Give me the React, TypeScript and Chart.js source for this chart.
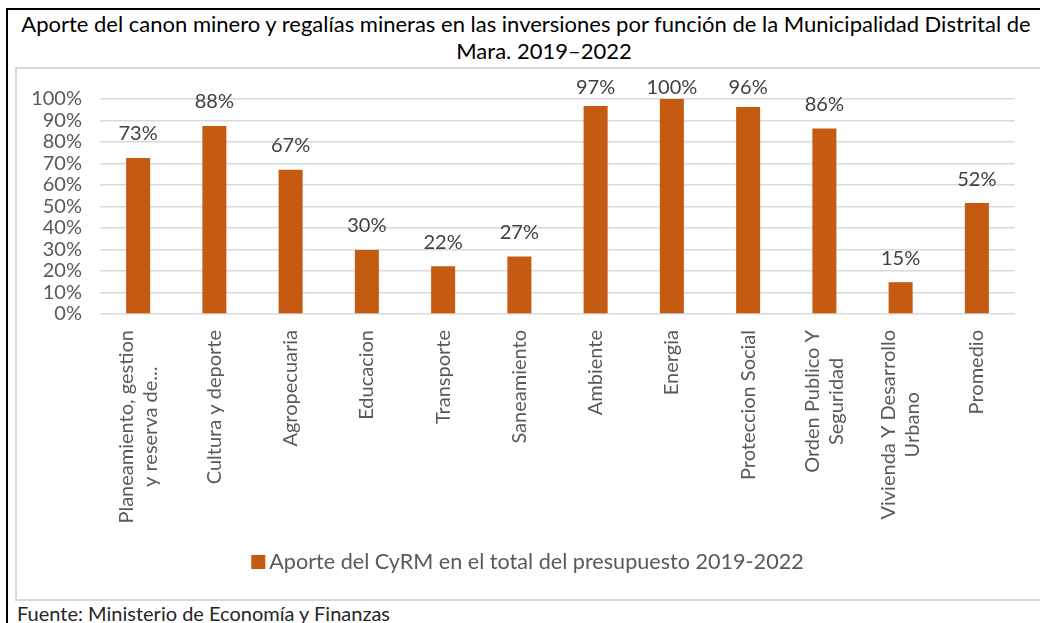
import React, { useEffect, useRef } from 'react';
import { Chart, registerables } from 'chart.js';

Chart.register(...registerables);

const FONT = 'Lato, "Open Sans", sans-serif';

const titleLine1 =
  'Aporte del canon minero y regalías mineras en las inversiones por función de la Municipalidad Distrital de';
const titleLine2 = 'Mara. 2019–2022';
const sourceText = 'Fuente: Ministerio de Economía y Finanzas';
const seriesLabel = 'Aporte del CyRM en el total del presupuesto 2019-2022';

const categories: string[][] = [
  ['Planeamiento, gestion', 'y reserva de...'],
  ['Cultura y deporte'],
  ['Agropecuaria'],
  ['Educacion'],
  ['Transporte'],
  ['Saneamiento'],
  ['Ambiente'],
  ['Energia'],
  ['Proteccion Social'],
  ['Orden Publico Y', 'Seguridad'],
  ['Vivienda Y Desarrollo', 'Urbano'],
  ['Promedio'],
];

const values = [0.726, 0.875, 0.671, 0.298, 0.222, 0.268, 0.968, 1.0, 0.963, 0.863, 0.148, 0.516];

const yMin = 0;
const yMax = 1;
const yStep = 0.1;

const BAR_COLOR = '#C55A11';
const AXIS_TEXT = '#595959';
const LABEL_TEXT = '#404040';
const GRID = '#D9D9D9';

const pct = (v: number) => Math.round(v * 100) + '%';

export default function App() {
  const ref = useRef<HTMLCanvasElement>(null);

  useEffect(() => {
    const canvas = ref.current;
    if (!canvas) return;

    const customDraw = {
      id: 'customDraw',
      afterDatasetsDraw(chart: any) {
        const ctx = chart.ctx;
        const meta = chart.getDatasetMeta(0);
        const minY = chart.chartArea.top - 11;
        ctx.save();
        ctx.font = `20px ${FONT}`;
        ctx.fillStyle = LABEL_TEXT;
        ctx.textAlign = 'center';
        ctx.textBaseline = 'middle';
        meta.data.forEach((bar: any, i: number) => {
          ctx.fillText(pct(values[i]), bar.x, Math.max(bar.y - 24, minY));
        });
        ctx.restore();
      },
      afterDraw(chart: any) {
        const ctx = chart.ctx;
        const xs = chart.scales.x;
        const area = chart.chartArea;
        ctx.save();
        ctx.font = `20px ${FONT}`;
        ctx.fillStyle = AXIS_TEXT;
        ctx.textAlign = 'center';
        ctx.textBaseline = 'middle';
        categories.forEach((lines, i) => {
          const x = xs.getPixelForTick(i);
          const maxW = Math.max(...lines.map((l) => ctx.measureText(l).width));
          const top = area.bottom + 16;
          lines.forEach((line, j) => {
            const off = (j - (lines.length - 1) / 2) * 24;
            ctx.save();
            ctx.translate(x + off, top + maxW / 2);
            ctx.rotate(-Math.PI / 2);
            ctx.fillText(line, 0, 0);
            ctx.restore();
          });
        });
        // legend
        ctx.font = `21.6px ${FONT}`;
        const tw = ctx.measureText(seriesLabel).width;
        const box = 14;
        const gap = 4;
        const total = box + gap + tw;
        const cx = chart.width / 2 - 1;
        const cy = chart.height - 37;
        const sx = cx - total / 2;
        ctx.fillStyle = BAR_COLOR;
        ctx.fillRect(sx, cy - box / 2, box, box);
        ctx.fillStyle = AXIS_TEXT;
        ctx.textAlign = 'left';
        ctx.fillText(seriesLabel, sx + box + gap, cy);
        ctx.restore();
      },
    };

    const chart = new Chart(canvas, {
      type: 'bar',
      data: {
        labels: categories as any,
        datasets: [
          {
            label: seriesLabel,
            data: values,
            backgroundColor: BAR_COLOR,
            borderWidth: 0,
            barPercentage: 0.315,
            categoryPercentage: 1,
          },
        ],
      },
      options: {
        animation: false,
        responsive: false,
        devicePixelRatio: 1,
        layout: { padding: { top: 29, right: 25, bottom: 0, left: 0 } },
        plugins: {
          legend: { display: false },
          tooltip: { enabled: false },
        },
        scales: {
          x: {
            grid: { display: false },
            border: { display: false },
            ticks: { display: false },
            afterFit: (s: any) => {
              s.height = 285;
            },
          },
          y: {
            min: yMin,
            max: yMax,
            ticks: {
              stepSize: yStep,
              autoSkip: false,
              callback: (v: any) => pct(Number(v)),
              font: { family: FONT, size: 20 },
              color: AXIS_TEXT,
              padding: 18,
            },
            grid: { color: GRID, lineWidth: 1.5, drawTicks: false },
            border: { display: false },
            afterFit: (s: any) => {
              s.width = 83;
            },
          },
        },
      } as any,
      plugins: [customDraw],
    });
    return () => chart.destroy();
  }, []);

  const titleStyle: React.CSSProperties = {
    position: 'absolute',
    left: 0,
    textAlign: 'center',
    whiteSpace: 'nowrap',
    fontSize: 22,
    lineHeight: '24px',
    color: '#000',
  };

  return (
    <div
      style={{
        position: 'fixed',
        left: 0,
        top: 0,
        width: 1040,
        height: 623,
        overflow: 'hidden',
        background: '#fff',
        fontFamily: FONT,
      }}
    >
      <div
        style={{
          position: 'absolute',
          left: 6,
          top: 8,
          width: 1100,
          height: 700,
          border: '2px solid #000',
          boxSizing: 'border-box',
        }}
      />
      <div style={{ ...titleStyle, top: 12, width: 1052 }}>{titleLine1}</div>
      <div style={{ ...titleStyle, top: 39, width: 1088 }}>{titleLine2}</div>
      <div
        style={{
          position: 'absolute',
          left: 15,
          top: 67,
          width: 1100,
          height: 534,
          border: '2px solid #D9D9D9',
          boxSizing: 'border-box',
        }}
      />
      <canvas
        ref={ref}
        width={1023}
        height={530}
        style={{ position: 'absolute', left: 17, top: 69, width: 1023, height: 530 }}
      />
      <div
        style={{
          position: 'absolute',
          left: 17,
          top: 601,
          whiteSpace: 'nowrap',
          fontSize: 20,
          lineHeight: '24px',
          color: '#262626',
        }}
      >
        {sourceText}
      </div>
    </div>
  );
}
